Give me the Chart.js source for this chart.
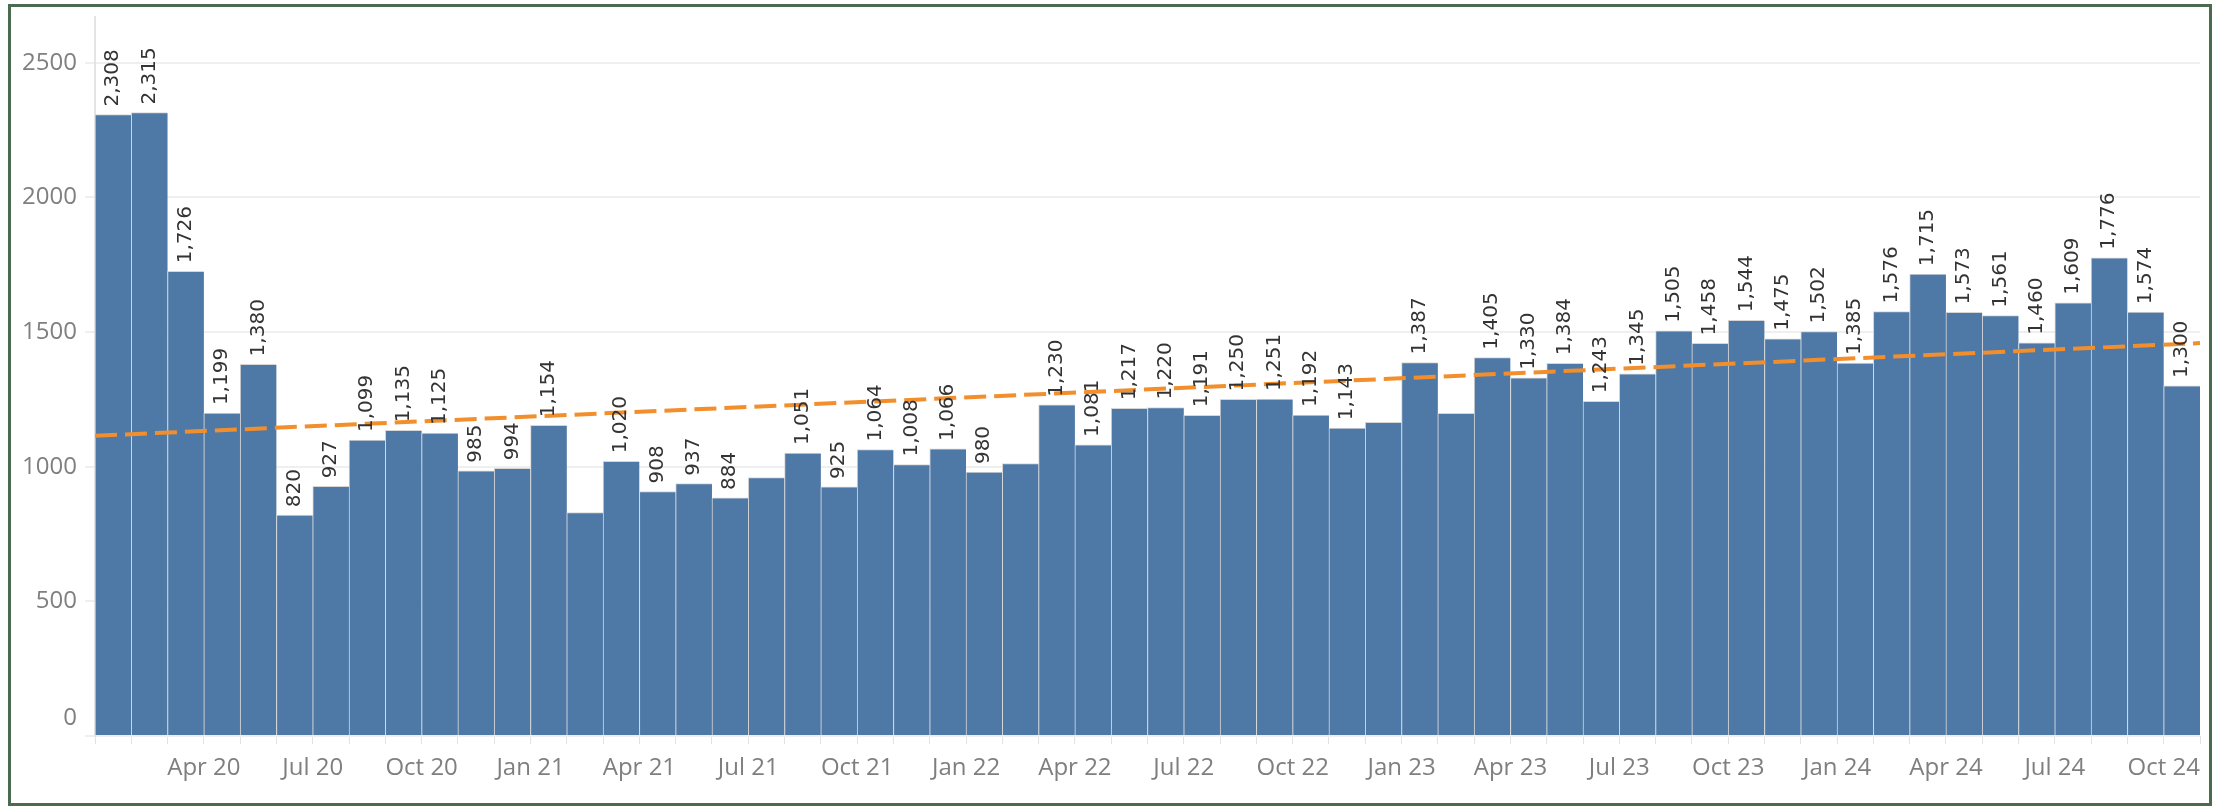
<!DOCTYPE html>
<html lang="en">
<head>
<meta charset="UTF-8">
<title>Monthly count</title>
<script src="https://cdn.jsdelivr.net/npm/chart.js"></script>
<style>
    body { margin: 0; background: #fff; }
    #chart { position: absolute; left: 0; top: 0; }
    #frame { position: absolute; left: 8px; top: 4px; width: 2204px; height: 802px; box-sizing: border-box; border: 3px solid #4b6b50; pointer-events: none; }
</style>
</head>
<body>
<canvas id="chart" width="2219" height="807"></canvas>
<div id="frame"></div>

<script>
    const months = [
        'Jan 20', 'Feb 20', 'Mar 20', 'Apr 20', 'May 20', 'Jun 20', 'Jul 20', 'Aug 20', 'Sep 20', 'Oct 20', 'Nov 20', 'Dec 20',
        'Jan 21', 'Feb 21', 'Mar 21', 'Apr 21', 'May 21', 'Jun 21', 'Jul 21', 'Aug 21', 'Sep 21', 'Oct 21', 'Nov 21', 'Dec 21',
        'Jan 22', 'Feb 22', 'Mar 22', 'Apr 22', 'May 22', 'Jun 22', 'Jul 22', 'Aug 22', 'Sep 22', 'Oct 22', 'Nov 22', 'Dec 22',
        'Jan 23', 'Feb 23', 'Mar 23', 'Apr 23', 'May 23', 'Jun 23', 'Jul 23', 'Aug 23', 'Sep 23', 'Oct 23', 'Nov 23', 'Dec 23',
        'Jan 24', 'Feb 24', 'Mar 24', 'Apr 24', 'May 24', 'Jun 24', 'Jul 24', 'Aug 24', 'Sep 24', 'Oct 24'
    ];
    const tickLabels = [
        'Apr 20', 'Jul 20', 'Oct 20', 'Jan 21', 'Apr 21', 'Jul 21', 'Oct 21', 'Jan 22', 'Apr 22', 'Jul 22',
        'Oct 22', 'Jan 23', 'Apr 23', 'Jul 23', 'Oct 23', 'Jan 24', 'Apr 24', 'Jul 24', 'Oct 24'
    ];
    const yTicks = [0, 500, 1000, 1500, 2000, 2500];
    const counts = [
        2308, 2315, 1726, 1199, 1380, 820, 927, 1099, 1135, 1125, 985, 994,
        1154, 830, 1020, 908, 937, 884, 960, 1051, 925, 1064, 1008, 1066,
        980, 1012, 1230, 1081, 1217, 1220, 1191, 1250, 1251, 1192, 1143, 1165,
        1387, 1198, 1405, 1330, 1384, 1243, 1345, 1505, 1458, 1544, 1475, 1502,
        1385, 1576, 1715, 1573, 1561, 1460, 1609, 1776, 1574, 1300
    ];
    // months whose value label is hidden in the original
    const noLabel = ['Feb 21', 'Jul 21', 'Feb 22', 'Dec 22', 'Feb 23'];
    // trend line value at the left and right edge of the plot
    const trend = [1115, 1459];

    const barLabels = {
        id: 'barLabels',
        afterDatasetsDraw(chart) {
            const ctx = chart.ctx;
            const meta = chart.getDatasetMeta(0);
            ctx.save();
            ctx.font = '20px "DejaVu Sans"';
            ctx.fillStyle = '#333';
            ctx.textAlign = 'left';
            ctx.textBaseline = 'middle';
            meta.data.forEach((bar, i) => {
                if (noLabel.includes(months[i])) return;
                ctx.save();
                ctx.translate(bar.x, bar.y - 8);
                ctx.rotate(-Math.PI / 2);
                ctx.fillText(counts[i].toLocaleString('en-US'), 0, 0);
                ctx.restore();
            });
            ctx.restore();
        }
    };

    const ctx = document.getElementById('chart').getContext('2d');
    const chart = new Chart(ctx, {
        type: 'bar',
        data: {
            datasets: [{
                data: counts.map((v, i) => ({ x: i + 0.5, y: v })),
                backgroundColor: '#4e79a7',
                borderColor: '#d6d6d6',
                borderWidth: { left: 1, right: 0, top: 1, bottom: 0 },
                barPercentage: 1,
                categoryPercentage: 1,
                order: 1
            }, {
                type: 'line',
                data: [{ x: 0, y: trend[0] }, { x: months.length, y: trend[1] }],
                borderColor: '#f28e2b',
                borderWidth: 4,
                borderDash: [22, 8],
                pointRadius: 0,
                order: 0
            }]
        },
        options: {
            responsive: false,
            animation: false,
            devicePixelRatio: 1,
            layout: { padding: { left: 0, right: 19, top: 15, bottom: 0 } },
            plugins: { legend: { display: false }, tooltip: { enabled: false } },
            scales: {
                x: {
                    type: 'linear',
                    min: 0,
                    max: months.length,
                    offset: false,
                    grid: { offset: false, drawOnChartArea: false, tickLength: 8, color: '#e2e2e2' },
                    border: { display: false },
                    ticks: {
                        stepSize: 1,
                        autoSkip: false,
                        maxRotation: 0,
                        padding: 10,
                        font: { family: 'Open Sans', size: 24 },
                        color: '#7f7f7f',
                        callback: v => tickLabels.includes(months[v]) ? months[v] : ''
                    },
                    afterFit: s => { s.height = 71; }
                },
                y: {
                    min: 0,
                    max: 2670,
                    afterBuildTicks: s => { s.ticks = yTicks.map(v => ({ value: v })); },
                    grid: { color: '#efefef', lineWidth: 2, tickLength: 10 },
                    border: { display: true, color: '#e4e4e4', width: 2 },
                    ticks: {
                        padding: 8,
                        font: { family: 'Open Sans', size: 24, lineHeight: 0.75 },
                        color: '#7f7f7f',
                        // the 0 label sits a little above its line, as in the original
                        callback: v => v === 0 ? ['0', '', ''] : String(v)
                    },
                    afterFit: s => { s.width = 95; }
                }
            }
        },
        plugins: [barLabels]
    });
</script>
</body>
</html>
